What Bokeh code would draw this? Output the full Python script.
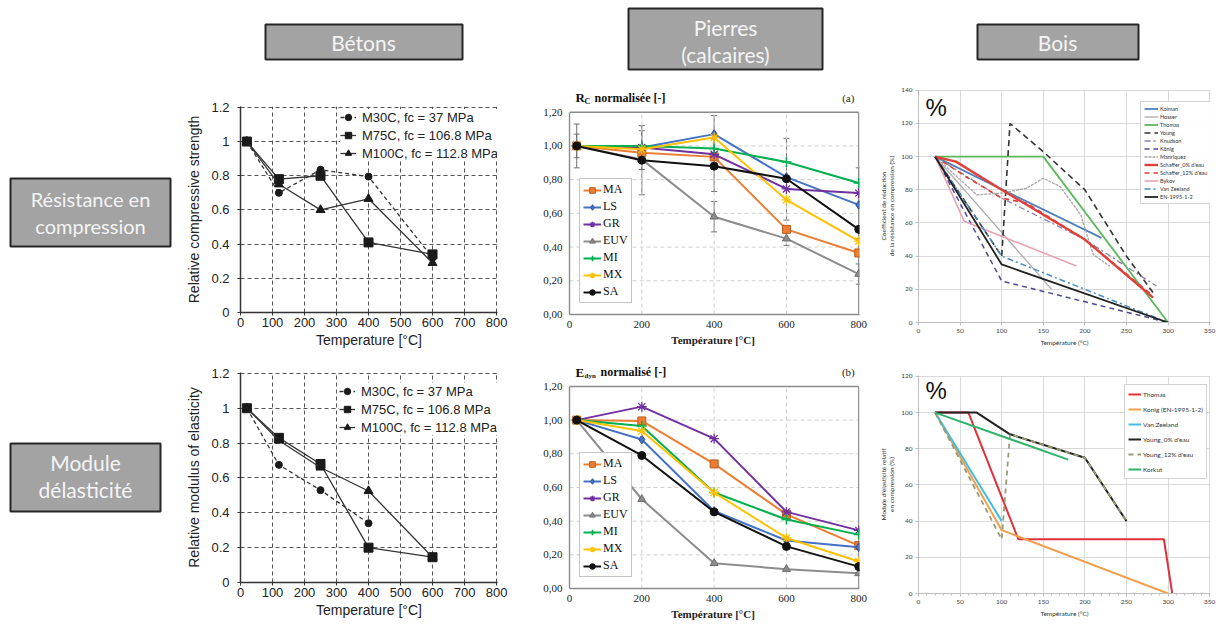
from bokeh.plotting import figure
from bokeh.models import Range1d, FixedTicker, Whisker, TeeHead, ColumnDataSource
from bokeh.layouts import row, column
from bokeh.core.properties import value
from bokeh.embed import file_html
from bokeh.resources import INLINE

# ---------------- DATA ----------------
# Concrete (Bétons)
conc_labels = ["M30C, fc = 37 MPa", "M75C, fc = 106.8 MPa", "M100C, fc = 112.8 MPa"]
conc_xticks = [0, 100, 200, 300, 400, 500, 600, 700, 800]
conc_yticks = [0, 0.2, 0.4, 0.6, 0.8, 1.0, 1.2]
conc_ytick_labels = ["0", "0.2", "0.4", "0.6", "0.8", "1", "1.2"]
rc_t_m30 = [20, 120, 250, 400, 600]
rc_m30 = [1.0, 0.70, 0.835, 0.795, 0.32]
rc_t = [20, 120, 250, 400, 600]
rc_m75 = [1.0, 0.78, 0.80, 0.41, 0.34]
rc_m100 = [1.0, 0.75, 0.60, 0.665, 0.29]
e_t_m30 = [20, 120, 250, 400]
e_m30 = [1.0, 0.675, 0.53, 0.34]
e_t = [20, 120, 250, 400, 600]
e_m75 = [1.0, 0.83, 0.68, 0.20, 0.145]
e_m100 = [1.0, 0.815, 0.66, 0.525, 0.145]

# Stones (Pierres calcaires)
stone_t = [20, 200, 400, 600, 800]
stone_names = ["MA", "LS", "GR", "EUV", "MI", "MX", "SA"]
stone_xticks = [0, 200, 400, 600, 800]
stone_yticks = [0, 0.2, 0.4, 0.6, 0.8, 1.0, 1.2]
stone_ytick_labels = ["0,00", "0,20", "0,40", "0,60", "0,80", "1,00", "1,20"]
rcn_MA = [1.00, 0.96, 0.935, 0.505, 0.365]
rcn_LS = [1.00, 0.99, 1.07, 0.815, 0.65]
rcn_GR = [1.00, 0.99, 0.95, 0.745, 0.72]
rcn_EUV = [1.00, 0.92, 0.58, 0.45, 0.24]
rcn_MI = [1.00, 1.00, 0.985, 0.905, 0.78]
rcn_MX = [1.00, 0.98, 1.05, 0.68, 0.435]
rcn_SA = [1.00, 0.915, 0.88, 0.805, 0.505]
err_t = [20, 20, 200, 200, 400, 400, 400, 600, 600, 800, 800]
err_lo = [0.87, 0.93, 0.71, 0.86, 0.49, 0.73, 0.96, 0.56, 0.41, 0.18, 0.45]
err_hi = [1.13, 1.07, 1.12, 1.09, 0.67, 1.04, 1.18, 1.045, 0.49, 0.30, 0.87]
edn_MA = [1.00, 0.995, 0.74, 0.44, 0.255]
edn_LS = [1.00, 0.885, 0.46, 0.285, 0.245]
edn_GR = [1.00, 1.08, 0.89, 0.455, 0.345]
edn_EUV = [1.00, 0.53, 0.15, 0.115, 0.09]
edn_MI = [1.00, 0.965, 0.57, 0.41, 0.32]
edn_MX = [1.00, 0.935, 0.57, 0.30, 0.16]
edn_SA = [1.00, 0.79, 0.455, 0.25, 0.13]

# Wood (Bois) - compression strength (%)
wood_xticks = [0, 50, 100, 150, 200, 250, 300, 350]
wood_minor_xticks = list(range(0, 351, 10))
wood_rc_yticks = [0, 20, 40, 60, 80, 100, 120, 140]
wood_e_yticks = [0, 20, 40, 60, 80, 100, 120]
kolman_t = [20, 220]; kolman = [100, 51]
hosser_t = [20, 160]; hosser = [100, 20]
thomas_t = [20, 150, 300]; thomas = [100, 100, 0]
young_t = [20, 100, 110, 150, 200, 250, 282]; young = [100, 40, 120, 103, 80, 40, 18]
knudson_t = [20, 100, 200, 286]; knudson = [100, 75, 50, 22]
konig_t = [20, 100, 300]; konig = [100, 25, 0]
manriquez_t = [20, 70, 100, 130, 150, 170, 195, 210, 230]; manriquez = [100, 77, 78, 81, 87, 82, 65, 41, 34]
schaffer0_t = [20, 45, 100, 200, 282]; schaffer0 = [100, 97, 80, 50, 15]
schaffer12_t = [20, 60, 100, 130, 200, 282]; schaffer12 = [100, 87, 75, 72, 50, 16]
bykov_t = [20, 55, 190]; bykov = [100, 61, 34]
vanzeeland_t = [20, 100, 300]; vanzeeland = [100, 40, 0]
en1995_t = [20, 100, 300]; en1995 = [100, 35, 0]
# Wood - modulus of elasticity (%)
thomas_e_t = [20, 60, 120, 295, 305]; thomas_e = [100, 100, 30, 30, 0]
konig_e_t = [20, 100, 300]; konig_e = [100, 35, 0]
vz_e_t = [20, 100]; vz_e = [100, 40]
young0_e_t = [20, 70, 110, 200, 250]; young0_e = [100, 100, 88, 75, 40]
young12_e_t = [20, 100, 110, 200, 250]; young12_e = [100, 30, 88, 75, 40]
korkut_e_t = [20, 180]; korkut_e = [100, 74]

SANS = "Liberation Sans"
SERIF = "Liberation Serif"
LATO = "Lato"


def noalign(p):
    try:
        p.frame_align = False
    except Exception:
        pass


def blank(width, height, xr, yr):
    p = figure(width=width, height=height, x_range=Range1d(*xr), y_range=Range1d(*yr),
               x_axis_type=None, y_axis_type=None, output_backend="svg",
               toolbar_location=None, min_border=0)
    p.outline_line_color = None
    p.grid.visible = False
    noalign(p)
    return p


def box(p, l, r, t, b, lines, cx, ys, size="21px"):
    p.quad(left=[l], right=[r], top=[t], bottom=[b], fill_color="#a3a3a3",
           line_color="#262626", line_width=2)
    p.text(x=[cx] * len(lines), y=ys, text=lines, text_font=value(LATO),
           text_font_size=size, text_color="#f4f4f4", text_align="center",
           text_baseline="middle")


# ---------------- header & row labels ----------------
hdr = blank(1033, 80, (183, 1216), (80, 0))
box(hdr, 265, 462, 24, 59, ["Bétons"], 363, [42])
box(hdr, 628, 822, 8, 69, ["Pierres", "(calcaires)"], 725, [27, 54])
box(hdr, 977, 1138, 24, 59, ["Bois"], 1057, [42])

left = blank(183, 624, (0, 183), (624, 0))
box(left, 10, 170, 178, 246, ["Résistance en", "compression"], 90, [198, 225], "20px")
box(left, 10, 160, 443, 511, ["Module", "délasticité"], 85, [462, 489], "21px")


# ---------------- concrete ----------------
def conc_fig(height, bt, bb, ylabel, series, legend_loc):
    p = figure(width=352, height=height, x_range=Range1d(0, 803), y_range=Range1d(0, 1.205),
               output_backend="svg", toolbar_location=None,
               min_border_left=55, min_border_right=38, min_border_top=bt, min_border_bottom=bb)
    noalign(p)
    p.outline_line_color = None
    p.xaxis.ticker = FixedTicker(ticks=conc_xticks)
    p.yaxis.ticker = FixedTicker(ticks=conc_yticks)
    p.yaxis.major_label_overrides = dict(zip(conc_yticks, conc_ytick_labels))
    p.grid.grid_line_color = "#555555"
    p.grid.grid_line_dash = "4 3"
    p.grid.grid_line_width = 1
    for ax in (p.xaxis, p.yaxis):
        ax.axis_line_color = "#333333"
        ax.axis_line_width = 1.5
        ax.major_tick_out = 3
        ax.major_tick_in = 0
        ax.major_tick_line_color = "#333333"
        ax.minor_tick_line_color = None
        ax.major_label_text_font = SANS
        ax.major_label_text_font_size = "13px"
        ax.major_label_text_color = "#222222"
        ax.axis_label_text_font = SANS
        ax.axis_label_text_font_size = "14px"
        ax.axis_label_text_font_style = "normal"
        ax.axis_label_text_color = "#222222"
    p.xaxis.major_label_standoff = 2
    p.yaxis.major_label_standoff = 8
    p.xaxis.axis_label = "Temperature [°C]"
    p.xaxis.axis_label_standoff = 2
    p.yaxis.axis_label = ylabel
    p.yaxis.axis_label_standoff = 6
    markers = ["circle", "square", "triangle"]
    sizes = [7, 9, 9]
    dashes = ["4 3", "solid", "solid"]
    for (xs, ys), lab, mk, sz, dsh in zip(series, conc_labels, markers, sizes, dashes):
        p.line(xs, ys, line_color="#333333", line_width=1.3, line_dash=dsh, legend_label=lab)
        p.scatter(xs, ys, marker=mk, size=sz, fill_color="#1a1a1a", line_color="#1a1a1a",
                  legend_label=lab)
    lg = p.legend[0]
    lg.location = legend_loc
    lg.border_line_color = None
    lg.background_fill_color = "white"
    lg.background_fill_alpha = 1
    lg.label_text_font = SANS
    lg.label_text_font_size = "13px"
    lg.label_text_color = "#222222"
    lg.glyph_width = 16
    lg.glyph_height = 16
    lg.label_height = 16
    lg.label_standoff = 6
    lg.spacing = 2
    lg.padding = 3
    lg.margin = 0
    return p


c1 = conc_fig(270, 26, 37, "Relative compressive strength",
              [(rc_t_m30, rc_m30), (rc_t, rc_m75), (rc_t, rc_m100)], (100, 151))
c2 = conc_fig(274, 22, 42, "Relative modulus of elasticity",
              [(e_t_m30, e_m30), (e_t, e_m75), (e_t, e_m100)], (99, 147))

# ---------------- stones ----------------
stone_colors = ["#ED7D31", "#4472C4", "#7030A0", "#8C8C8C", "#00B050", "#FFC000", "#111111"]
stone_edge = ["#B85C1E", "#2F528F", "#7030A0", "#6E6E6E", "#00B050", "#FFC000", "#111111"]
stone_markers = ["square", "diamond", "asterisk", "triangle", "cross", "asterisk", "circle"]
stone_sizes = [8, 9, 10, 8, 10, 10, 8]
stone_mlw = [1, 1, 1.3, 1, 1.5, 1.3, 1]


def stone_fig(height, ytop, bt, bb, series, title_parts, title_y, tag, errors=None):
    p = figure(width=340, height=height, x_range=Range1d(0, 802), y_range=Range1d(0, ytop),
               output_backend="svg", toolbar_location=None,
               min_border_left=34, min_border_right=16, min_border_top=bt, min_border_bottom=bb)
    noalign(p)
    p.outline_line_color = None
    p.grid.visible = False
    ymax = stone_yticks[-1]
    xmin, xmax = stone_xticks[0], stone_xticks[-1]
    gx = stone_xticks[1:-1]
    p.segment(x0=gx, x1=gx, y0=[0] * len(gx), y1=[ymax] * len(gx),
              line_color="#cfcfcf", line_dash="4 3", line_width=1)
    gy = stone_yticks[1:-1]
    p.segment(x0=[xmin] * len(gy), x1=[xmax] * len(gy), y0=gy, y1=gy,
              line_color="#cfcfcf", line_dash="4 3", line_width=1)
    p.segment(x0=[xmin, xmax], x1=[xmax, xmax], y0=[ymax, 0], y1=[ymax, ymax],
              line_color="#8c8c8c", line_width=1.4)
    p.xaxis.ticker = FixedTicker(ticks=stone_xticks)
    p.yaxis.ticker = FixedTicker(ticks=stone_yticks)
    p.yaxis.major_label_overrides = dict(zip(stone_yticks, stone_ytick_labels))
    p.yaxis.bounds = (0, ymax)
    for ax in (p.xaxis, p.yaxis):
        ax.axis_line_color = "#8c8c8c"
        ax.axis_line_width = 1.4
        ax.major_tick_out = 0
        ax.major_tick_in = 0
        ax.minor_tick_line_color = None
        ax.major_label_text_font = SERIF
        ax.major_label_text_font_size = "11px"
        ax.major_label_text_color = "#222222"
    p.xaxis.major_label_standoff = 6
    p.yaxis.major_label_standoff = 7
    p.xaxis.axis_label = "Température  [°C]"
    p.xaxis.axis_label_text_font = SERIF
    p.xaxis.axis_label_text_font_size = "11px"
    p.xaxis.axis_label_text_font_style = "bold"
    p.xaxis.axis_label_text_color = "#222222"
    p.xaxis.axis_label_standoff = 3
    if errors is not None:
        src = ColumnDataSource(dict(x=errors[0], lo=errors[1], hi=errors[2]))
        w = Whisker(base="x", lower="lo", upper="hi", source=src, line_color="#707070",
                    line_width=1, upper_head=TeeHead(size=6, line_color="#707070"),
                    lower_head=TeeHead(size=6, line_color="#707070"), level="underlay")
        p.add_layout(w)
    for ys, name, col, edge, mk, sz, mlw in zip(series, stone_names, stone_colors, stone_edge,
                                                stone_markers, stone_sizes, stone_mlw):
        p.line(stone_t, ys, line_color=col, line_width=2, legend_label=name)
        p.scatter(stone_t, ys, marker=mk, size=sz, fill_color=col, line_color=edge,
                  line_width=mlw, legend_label=name)
    tx = 16.6
    for txt, size, xo, yo in title_parts:
        p.text(x=[tx], y=[title_y], text=[txt], text_font=value(SERIF), text_font_style="bold",
               text_font_size=size, text_baseline="middle", x_offset=xo, y_offset=yo,
               text_color="#111111")
    p.text(x=[771], y=[title_y], text=[tag], text_font=value(SERIF), text_font_size="11px",
           text_align="center", text_baseline="middle", text_color="#222222")
    lg = p.legend[0]
    lg.location = (10, 11)
    lg.border_line_color = "#8c8c8c"
    lg.border_line_width = 1
    lg.background_fill_color = "white"
    lg.label_text_font = SERIF
    lg.label_text_font_size = "12px"
    lg.label_text_color = "#111111"
    lg.glyph_width = 18
    lg.glyph_height = 14
    lg.label_height = 14
    lg.label_standoff = 2
    lg.spacing = 2
    lg.padding = 3
    lg.margin = 0
    return p


s1 = stone_fig(270, 1.3406, 8, 36,
               [rcn_MA, rcn_LS, rcn_GR, rcn_EUV, rcn_MI, rcn_MX, rcn_SA],
               [("R", "13px", 0, 0), ("C", "8px", 9, 4), ("normalisée [-]", "12px", 19, 0)],
               1.287, "(a)", errors=(err_t, err_lo, err_hi))
s2 = stone_fig(274, 1.354, 10, 36,
               [edn_MA, edn_LS, edn_GR, edn_EUV, edn_MI, edn_MX, edn_SA],
               [("E", "13px", 0, 0), ("dyn", "7px", 9, 4), ("normalisé [-]", "12px", 25, 0)],
               1.283, "(b)")


# ---------------- wood ----------------
def wood_fig(height, bt, bb, yticks, ylabel, series, legend_loc, legend_font, lh, sp, gw, pct_y,
             minor=False):
    ytop = yticks[-1]
    p = figure(width=341, height=height, x_range=Range1d(0, 351), y_range=Range1d(0, ytop + 0.5),
               output_backend="svg", toolbar_location=None,
               min_border_left=43, min_border_right=6, min_border_top=bt, min_border_bottom=bb)
    noalign(p)
    p.outline_line_color = None
    if minor:
        p.xaxis.ticker = FixedTicker(ticks=wood_xticks, minor_ticks=wood_minor_xticks)
    else:
        p.xaxis.ticker = FixedTicker(ticks=wood_xticks)
    p.yaxis.ticker = FixedTicker(ticks=yticks)
    p.grid.grid_line_color = "#d9d9d9"
    p.grid.grid_line_width = 1
    for ax in (p.xaxis, p.yaxis):
        ax.axis_line_color = "#bfbfbf"
        ax.axis_line_width = 1
        ax.major_tick_out = 3
        ax.major_tick_in = 0
        ax.major_tick_line_color = "#bfbfbf"
        ax.minor_tick_line_color = None
        ax.major_label_text_font = LATO
        ax.major_label_text_font_size = "6.5px"
        ax.major_label_text_color = "#444444"
        ax.major_label_standoff = 3
        ax.axis_label_text_font = LATO
        ax.axis_label_text_font_size = "6.5px"
        ax.axis_label_text_font_style = "normal"
        ax.axis_label_text_color = "#333333"
        ax.axis_label_standoff = 3
    if minor:
        p.xaxis.minor_tick_line_color = "#bfbfbf"
        p.xaxis.minor_tick_out = 2
        p.xaxis.minor_tick_in = 0
    p.xaxis.axis_label = "Température (°C)"
    p.yaxis.axis_label = ylabel
    for xs, ys, lab, col, dash, w in series:
        p.line(xs, ys, line_color=col, line_dash=dash, line_width=w, legend_label=lab)
    p.text(x=[8.4], y=[pct_y], text=["%"], text_font=value(SANS), text_font_size="24px",
           text_baseline="middle", text_color="#111111")
    lg = p.legend[0]
    lg.location = legend_loc
    lg.border_line_color = "#a6a6a6"
    lg.border_line_width = 1
    lg.background_fill_color = "white"
    lg.label_text_font = LATO
    lg.label_text_font_size = legend_font
    lg.label_text_color = "#333333"
    lg.glyph_width = gw
    lg.glyph_height = lh
    lg.label_height = lh
    lg.label_standoff = 2
    lg.spacing = sp
    lg.padding = 3
    lg.margin = 0
    return p


w1 = wood_fig(270, 9, 28, wood_rc_yticks,
              "Coefficient de réduction\nde la résistance en compression (%)",
              [(kolman_t, kolman, "Kolman", "#4F81BD", "solid", 1.8),
               (hosser_t, hosser, "Hosser", "#ababab", "solid", 1.3),
               (thomas_t, thomas, "Thomas", "#5cb85c", "solid", 1.8),
               (young_t, young, "Young", "#333333", "6 4", 1.6),
               (knudson_t, knudson, "Knudson", "#8e7fa8", "6 3 2 3", 1.3),
               (konig_t, konig, "König", "#4b4b8f", "5 4", 1.5),
               (manriquez_t, manriquez, "Manriquez", "#a6a6a6", "3 1", 1.3),
               (schaffer0_t, schaffer0, "Schaffer_0% d'eau", "#e0403a", "solid", 2.4),
               (schaffer12_t, schaffer12, "Schaffer_12% d'eau", "#e0403a", "5 4", 1.6),
               (bykov_t, bykov, "Bykov", "#e8a3b3", "solid", 1.6),
               (vanzeeland_t, vanzeeland, "Van Zeeland", "#4a8fc8", "6 3 2 3", 1.5),
               (en1995_t, en1995, "EN-1995-1-2", "#222222", "solid", 1.8)],
              (222, 118), "5.5px", 7, 1, 14, 129.6)
w2 = wood_fig(274, 25, 31, wood_e_yticks,
              "Module d'élasticité relatif\nen compression (%)",
              [(thomas_e_t, thomas_e, "Thomas", "#e0303a", "solid", 2),
               (konig_e_t, konig_e, "Konig (EN-1995-1-2)", "#f0a050", "solid", 2),
               (vz_e_t, vz_e, "Van Zeeland", "#40bde0", "solid", 2),
               (young0_e_t, young0_e, "Young_0% d'eau", "#222222", "solid", 2),
               (young12_e_t, young12_e, "Young_12% d'eau", "#9a9a72", "5 4", 1.8),
               (korkut_e_t, korkut_e, "Korkut", "#2db36b", "solid", 2)],
              (206, 114), "6.5px", 12, 3, 13, 112.3, minor=True)

layout = row(left, column(hdr, row(c1, s1, w1), row(c2, s2, w2)))
open("out.html", "w").write(file_html(layout, INLINE))
